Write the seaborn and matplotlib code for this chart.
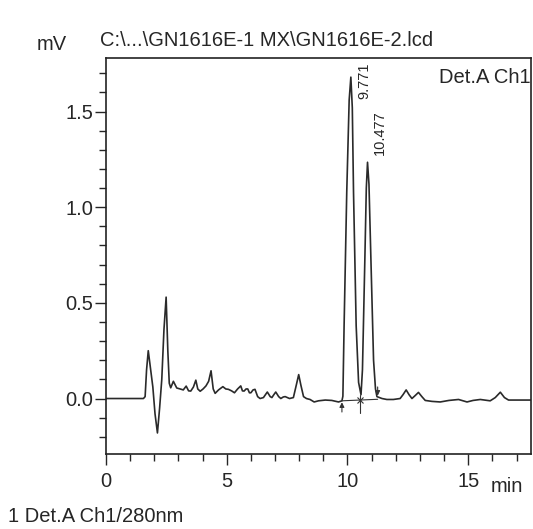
import matplotlib
matplotlib.use("Agg")
import matplotlib.pyplot as plt
import seaborn as sns
import pandas as pd
from matplotlib.ticker import MultipleLocator, FormatStrFormatter

# ---- data ----
time_min = [0.0, 1.0, 1.55, 1.62, 1.68, 1.75, 1.82, 1.94, 2.03, 2.13, 2.22, 2.31, 2.40, 2.49,
            2.56, 2.62, 2.68, 2.79, 2.93, 3.07, 3.20, 3.32, 3.42, 3.51, 3.62, 3.72, 3.80, 3.90,
            4.02, 4.14, 4.25, 4.35, 4.44, 4.52, 4.66, 4.84, 4.96, 5.07, 5.20, 5.32, 5.45, 5.58,
            5.65, 5.72, 5.80, 5.87, 5.94, 6.00, 6.09, 6.17, 6.28, 6.38, 6.52, 6.68, 6.80, 6.87,
            6.95, 7.03, 7.15, 7.24, 7.34, 7.42, 7.60, 7.76, 7.88, 7.98, 8.07, 8.18, 8.30, 8.45,
            8.62, 8.80, 9.08, 9.35, 9.63, 9.77, 9.81, 9.86, 9.97, 10.07, 10.14, 10.20, 10.25,
            10.36, 10.46, 10.56, 10.62, 10.66, 10.72, 10.78, 10.83, 10.89, 10.97, 11.08, 11.16,
            11.22, 11.43, 11.63, 11.90, 12.18, 12.30, 12.43, 12.55, 12.67, 12.80, 12.94, 13.08,
            13.22, 13.50, 13.84, 14.20, 14.60, 14.95, 15.20, 15.50, 15.91, 16.12, 16.33, 16.50,
            16.67, 17.00, 17.60]
signal_mv = [0.0, 0.0, 0.0, 0.01, 0.15, 0.25, 0.18, 0.06, -0.08, -0.18, -0.05, 0.10, 0.36, 0.53,
             0.25, 0.08, 0.056, 0.09, 0.055, 0.05, 0.045, 0.065, 0.04, 0.039, 0.06, 0.096, 0.05, 0.038,
             0.05, 0.066, 0.09, 0.145, 0.05, 0.027, 0.045, 0.062, 0.05, 0.048, 0.04, 0.03, 0.05, 0.066,
             0.04, 0.039, 0.05, 0.05, 0.03, 0.03, 0.045, 0.048, 0.01, 0.0, 0.005, 0.034, 0.01, 0.005,
             0.02, 0.034, 0.01, 0.0, 0.008, 0.01, 0.0, 0.005, 0.07, 0.125, 0.07, 0.01, 0.0, -0.005,
             -0.018, -0.012, -0.008, -0.01, -0.018, -0.012, 0.012, 0.38, 1.08, 1.56, 1.68, 1.52, 1.08,
             0.38, 0.084, 0.02, 0.15, 0.38, 0.73, 1.10, 1.235, 1.12, 0.73, 0.20, 0.05,
             0.01, 0.0, -0.005, -0.005, 0.0, 0.02, 0.045, 0.02, 0.0, 0.015, 0.032, 0.01,
             -0.01, -0.015, -0.018, -0.01, -0.005, -0.018, -0.01, -0.005, -0.012, 0.005, 0.033, 0.005,
             -0.008, -0.008, -0.008]

peak_times = [9.771, 10.477]
peak_labels = ["9.771", "10.477"]
# integration marks: start, split, end
mark_times = [9.77, 10.53, 11.25]

title = "C:\\...\\GN1616E-1 MX\\GN1616E-2.lcd"

df = pd.DataFrame({"t": time_min, "v": signal_mv})

sns.set_style("ticks")
plt.rcParams["font.family"] = ["Liberation Sans", "DejaVu Sans"]

FS = 14.5

fig = plt.figure(figsize=(5.33, 5.29), dpi=100)
ax = fig.add_axes([106 / 533, 1 - 454 / 529, (531 - 106) / 533, (454 - 58) / 529])

sns.lineplot(data=df, x="t", y="v", ax=ax, color="#2a2a2a", linewidth=1.2,
             sort=False, estimator=None)

# integration baseline and marks
ax.plot([mark_times[0], mark_times[2]], [-0.012, -0.004], color="#333333", linewidth=0.8)
ax.annotate("", xy=(mark_times[0], -0.005), xytext=(mark_times[0], -0.085),
            arrowprops=dict(arrowstyle="-|>", color="#333333", lw=0.8, mutation_scale=7))
ax.plot([mark_times[1], mark_times[1]], [0.02, -0.075], color="#333333", linewidth=0.8)
ax.plot([mark_times[1]], [-0.008], marker="x", color="#333333", markersize=4, mew=0.8)
ax.annotate("", xy=(mark_times[2], 0.0), xytext=(mark_times[2], 0.075),
            arrowprops=dict(arrowstyle="-|>", color="#333333", lw=0.8, mutation_scale=7))

# peak labels
ax.text(10.69, 1.66, peak_labels[0], rotation=90, ha="center", va="center", fontsize=10.5)
ax.text(11.33, 1.39, peak_labels[1], rotation=90, ha="center", va="center", fontsize=10.5)

ax.set_xlim(0, 17.6)
ax.set_ylim(-0.29, 1.78)
ax.xaxis.set_major_locator(MultipleLocator(5))
ax.xaxis.set_minor_locator(MultipleLocator(1))
ax.yaxis.set_major_locator(MultipleLocator(0.5))
ax.yaxis.set_minor_locator(MultipleLocator(0.1))
ax.yaxis.set_major_formatter(FormatStrFormatter("%.1f"))
ax.tick_params(which="major", length=8, width=1, labelsize=FS, direction="out", pad=1)
ax.tick_params(which="minor", length=5, width=1, direction="out")
ax.tick_params(axis="x", pad=5)
ax.set_xlabel("")
ax.set_ylabel("")
for s in ax.spines.values():
    s.set_visible(True)
    s.set_linewidth(1.2)
    s.set_color("#222222")

ax.text(1.0, 0.975, "Det.A Ch1", transform=ax.transAxes, ha="right", va="top", fontsize=FS)

fig.text(0.5, 1 - 40 / 529, title, ha="center", va="center", fontsize=FS)
fig.text(52 / 533, 1 - 45 / 529, "mV", ha="center", va="center", fontsize=FS)
fig.text(523 / 533, 1 - 487 / 529, "min", ha="right", va="center", fontsize=FS)
fig.text(8 / 533, 1 - 517 / 529, "1 Det.A Ch1/280nm", ha="left", va="center", fontsize=FS)

fig.savefig("out.png", dpi=100, facecolor="white")
